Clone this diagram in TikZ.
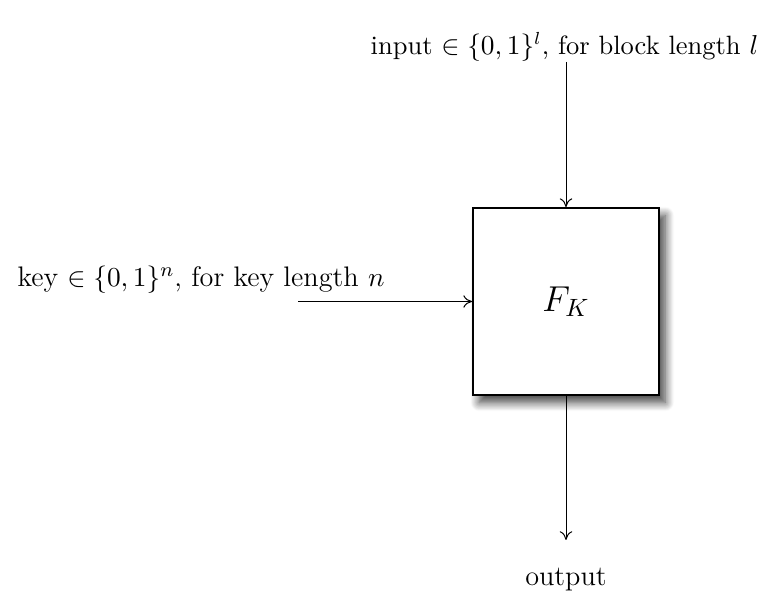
\documentclass[tikz,border=0pt]{standalone}
\usetikzlibrary{shadows.blur,arrows.meta}
\begin{document}
\begin{tikzpicture}[x=0.4pt,y=-0.4pt,
  fbox/.style={draw,line width=0.7pt,fill=white,minimum width=74.4pt,minimum height=74.8pt,inner sep=0pt,
    blur shadow={shadow xshift=2.5pt,shadow yshift=-3pt,shadow blur radius=3.5pt,shadow blur steps=12,shadow opacity=75}},
  conn/.style={-{To[length=3.5pt,width=5pt]},line width=0.4pt},
  lbl/.style={inner sep=0pt,font=\fontsize{11.3}{13}\selectfont}]
\useasboundingbox (0,0) rectangle (761,597);
\node[fbox] (F) at (566,301.5) {\Large $F_K$};
\node[lbl,font=\fontsize{10.6}{13}\selectfont] (in) at (564.5,47) {input $\in\{0,1\}^l$, for block length $l$};
\node[lbl] (key) at (201,280) {key $\in\{0,1\}^n$, for key length $n$};
\node[lbl] (out) at (566,580) {output};
\coordinate (inA) at (566,62);
\coordinate (keyA) at (298,301.5);
\coordinate (outA) at (566,540);
\draw[conn] (inA) -- (F.north);
\draw[conn] (keyA) -- (F.west);
\draw[conn] (F.south) -- (outA);
\end{tikzpicture}
\end{document}
